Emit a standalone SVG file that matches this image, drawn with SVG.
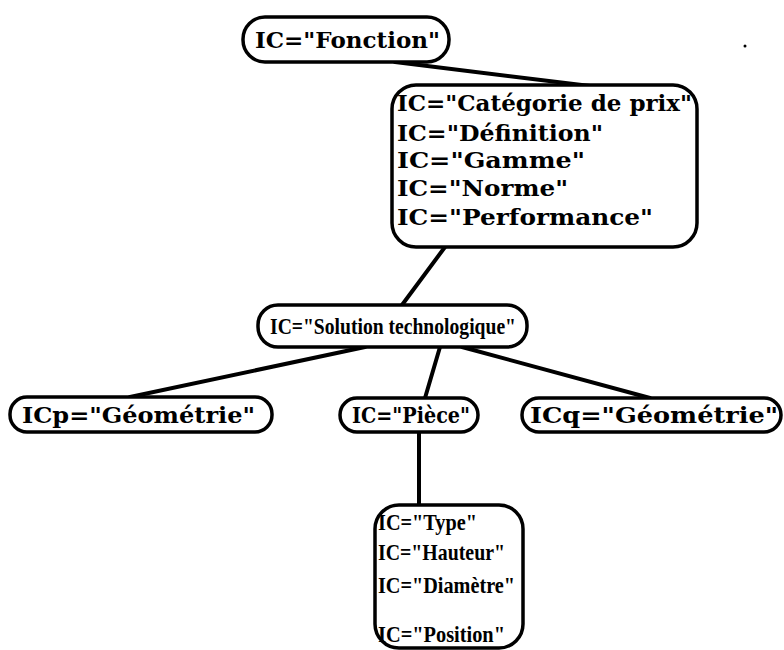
<svg xmlns="http://www.w3.org/2000/svg" width="784" height="650" viewBox="0 0 784 650">
<style>
.box{fill:#fff;stroke:#000;stroke-width:3.5}
.edge{stroke:#000;stroke-width:4;fill:none;stroke-linecap:round}
text{font-family:"DejaVu Serif","Liberation Serif",serif;font-weight:bold;font-size:22px;fill:#000}
.nar{font-family:"Liberation Serif","DejaVu Serif",serif;font-size:23px}
</style>
<rect width="784" height="650" fill="#fff"/>
<g id="connectors">
<path class="edge" d="M395 62 L590 86"/>
<path class="edge" d="M445 247 L402 305"/>
<path class="edge" d="M365 347 L130 397"/>
<path class="edge" d="M440 347 L425 398"/>
<path class="edge" d="M462 347 L650 398"/>
<path class="edge" d="M419 432 L419 505"/>
</g>
<g id="n-fonction">
<rect class="box" x="243" y="17" width="206" height="45" rx="22"/>
<text x="255" y="48" textLength="185" lengthAdjust="spacingAndGlyphs">IC="Fonction"</text>
</g>
<g id="n-attributs">
<rect class="box" x="392" y="85" width="305" height="162" rx="24"/>
<text x="397" y="111" textLength="295" lengthAdjust="spacingAndGlyphs">IC="Catégorie de prix"</text>
<text x="397" y="141" textLength="206" lengthAdjust="spacingAndGlyphs">IC="Définition"</text>
<text x="397" y="168" textLength="188" lengthAdjust="spacingAndGlyphs">IC="Gamme"</text>
<text x="397" y="196" textLength="171" lengthAdjust="spacingAndGlyphs">IC="Norme"</text>
<text x="397" y="225" textLength="256" lengthAdjust="spacingAndGlyphs">IC="Performance"</text>
</g>
<g id="n-solution">
<rect class="box" x="258" y="305" width="269" height="42" rx="20"/>
<text class="nar" x="270" y="334" textLength="246" lengthAdjust="spacingAndGlyphs">IC="Solution technologique"</text>
</g>
<g id="n-icp">
<rect class="box" x="10" y="397" width="262" height="35" rx="17"/>
<text x="22" y="423" textLength="233" lengthAdjust="spacingAndGlyphs">ICp="Géométrie"</text>
</g>
<g id="n-piece">
<rect class="box" x="340" y="398" width="138" height="34" rx="17"/>
<text x="352" y="423" textLength="118" lengthAdjust="spacingAndGlyphs">IC="Pièce"</text>
</g>
<g id="n-icq">
<rect class="box" x="522" y="398" width="259" height="34" rx="17"/>
<text x="530" y="423" textLength="248" lengthAdjust="spacingAndGlyphs">ICq="Géométrie"</text>
</g>
<g id="n-piece-attr">
<rect class="box" x="375" y="505" width="148" height="143" rx="24"/>
<text class="nar" x="378" y="530" textLength="99" lengthAdjust="spacingAndGlyphs">IC="Type"</text>
<text class="nar" x="378" y="560" textLength="127" lengthAdjust="spacingAndGlyphs">IC="Hauteur"</text>
<text class="nar" x="378" y="593" textLength="137" lengthAdjust="spacingAndGlyphs">IC="Diamètre"</text>
<text class="nar" x="378" y="642" textLength="127" lengthAdjust="spacingAndGlyphs">IC="Position"</text>
</g>
<circle cx="745" cy="46" r="1.5" fill="#000"/>
</svg>
